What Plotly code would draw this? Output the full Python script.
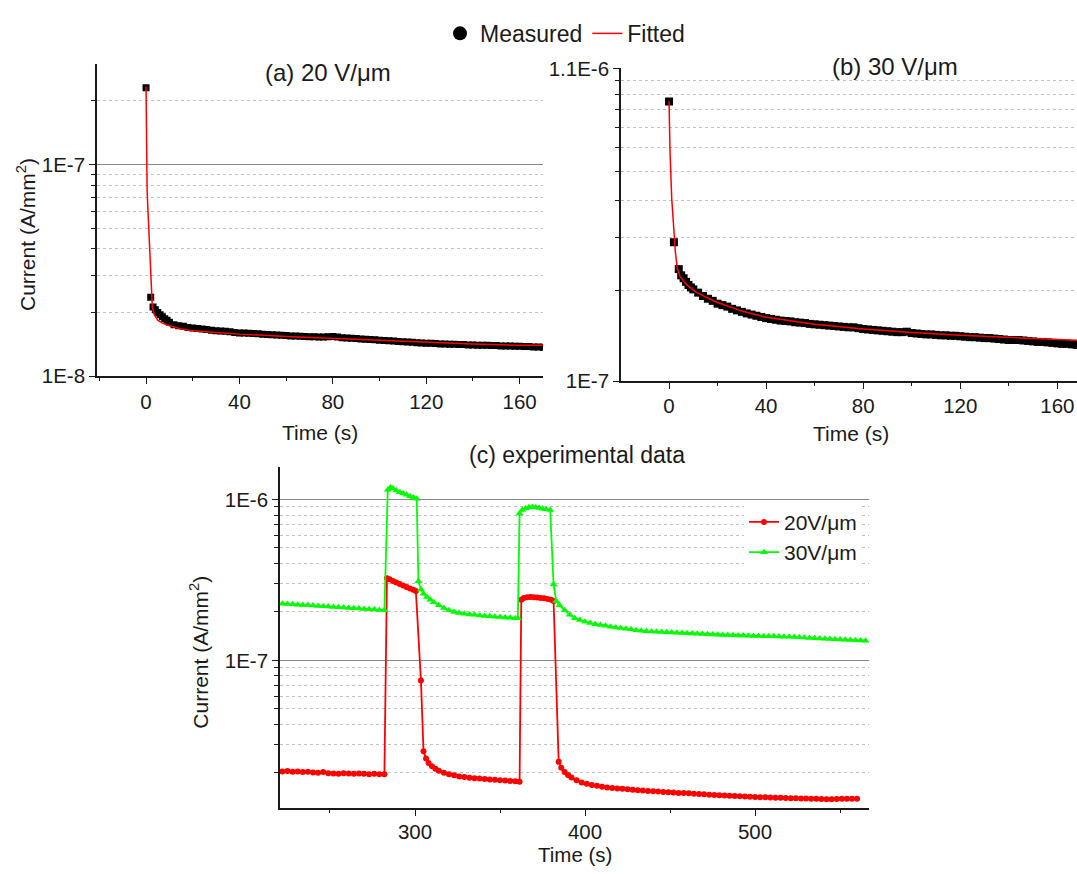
import math
import plotly.graph_objects as go

# ---------------- data ----------------
# (a) 20 V/um : measured current (A/mm^2) vs time (s)
A_T = [0, 2, 3, 4, 5, 6, 7, 8, 9, 10] + list(range(12, 171, 2))
A_I_E8 = [23.1, 2.36, 2.12, 2.06, 2.00, 1.95, 1.91, 1.87, 1.84, 1.80,
          1.75, 1.73, 1.72, 1.70, 1.69, 1.68, 1.67, 1.66, 1.65, 1.64,
          1.635, 1.63, 1.62, 1.61, 1.60, 1.60, 1.595, 1.59, 1.585, 1.58,
          1.575, 1.57, 1.565, 1.56, 1.555, 1.55, 1.55, 1.545, 1.54, 1.535,
          1.535, 1.53, 1.53, 1.535, 1.54, 1.53, 1.52, 1.515, 1.51, 1.505,
          1.50, 1.495, 1.49, 1.485, 1.48, 1.475, 1.47, 1.465, 1.46, 1.455,
          1.45, 1.445, 1.44, 1.435, 1.43, 1.43, 1.425, 1.42, 1.42, 1.415,
          1.415, 1.41, 1.41, 1.405, 1.405, 1.40, 1.40, 1.40, 1.395, 1.395,
          1.39, 1.39, 1.39, 1.385, 1.385, 1.38, 1.38, 1.375, 1.375, 1.37]
A_FIT_T = [0, 0.1, 0.45, 0.9, 1.4, 2.0, 2.7, 3.5, 5, 7, 10, 15, 20, 30, 40,
           60, 80, 100, 120, 140, 160, 170]
A_FIT_E8 = [23.4, 14.5, 7.6, 5.8, 4.5, 3.28, 2.12, 1.95, 1.84, 1.78, 1.73,
            1.67, 1.64, 1.61, 1.58, 1.54, 1.51, 1.47, 1.44, 1.42, 1.40, 1.40]

# (b) 30 V/um
B_T = [0, 2, 4, 5, 6, 7, 8, 9, 10] + list(range(12, 171, 2))
B_I_E7 = [8.53, 2.90, 2.36, 2.25, 2.20, 2.14, 2.09, 2.05, 2.02,
          1.97, 1.92, 1.88, 1.85, 1.81, 1.79, 1.77, 1.74, 1.72, 1.70,
          1.68, 1.665, 1.65, 1.635, 1.62, 1.61, 1.60, 1.59, 1.585, 1.58,
          1.57, 1.565, 1.56, 1.55, 1.545, 1.54, 1.535, 1.53, 1.525, 1.52,
          1.515, 1.51, 1.51, 1.50, 1.49, 1.485, 1.48, 1.475, 1.47, 1.465,
          1.46, 1.455, 1.455, 1.46, 1.445, 1.44, 1.435, 1.43, 1.43, 1.425,
          1.42, 1.42, 1.415, 1.415, 1.41, 1.405, 1.40, 1.40, 1.395, 1.39,
          1.39, 1.385, 1.38, 1.375, 1.37, 1.37, 1.37, 1.365, 1.36, 1.355,
          1.35, 1.35, 1.345, 1.34, 1.335, 1.33, 1.33, 1.325, 1.32, 1.32]
B_FIT_T = [0, 0.4, 1.1, 1.8, 2.6, 3.4, 4.5, 7.3, 11.4, 19.7, 30, 40, 60, 80,
           100, 120, 140, 160, 170]
B_FIT_E7 = [8.55, 5.82, 4.06, 3.20, 2.69, 2.37, 2.23, 2.09, 1.97, 1.83, 1.71,
            1.63, 1.545, 1.49, 1.45, 1.42, 1.395, 1.375, 1.365]

# (c) experimental data, 20 V/um
C20_T = (list(range(222, 283, 3))
         + [283.5, 285, 287, 289, 291, 293, 295, 297, 299, 300.5]
         + [303.5, 305, 306.5, 308, 310, 312, 314] + list(range(317, 360, 3)) + [361.5]
         + [362.5, 364, 366, 368, 370, 372, 374, 376, 378, 380, 381.5]
         + [384.5, 386, 388, 390, 392] + list(range(395, 561, 3)))
C20_I = ([v * 1e-8 for v in [2.04, 2.05, 2.03, 2.04, 2.02, 2.03, 2.01, 2.00, 2.02, 1.99,
                             1.98, 1.97, 1.99, 1.98, 1.97, 1.98, 1.97, 1.96, 1.97, 1.96, 1.96]]
         + [v * 1e-7 for v in [3.24, 3.20, 3.12, 3.05, 2.98, 2.92, 2.86, 2.80, 2.75, 2.70]]
         + [v * 1e-8 for v in [7.5, 2.72, 2.45, 2.30, 2.20, 2.12, 2.06,
                               2.00, 1.96, 1.93, 1.90, 1.88, 1.86, 1.85, 1.84, 1.83,
                               1.82, 1.81, 1.80, 1.79, 1.78, 1.77, 1.76]]
         + [v * 1e-7 for v in [2.38, 2.44, 2.47, 2.48, 2.47, 2.46, 2.44, 2.43, 2.41, 2.38, 2.34]]
         + [v * 1e-8 for v in [2.34, 2.15, 2.02, 1.94, 1.87,
                               1.80, 1.74, 1.71, 1.68, 1.66, 1.64, 1.62, 1.61, 1.60, 1.59,
                               1.58, 1.57, 1.56, 1.55, 1.54, 1.535, 1.53, 1.52, 1.515, 1.51,
                               1.50, 1.495, 1.49, 1.48, 1.475, 1.47, 1.46, 1.455, 1.45, 1.445,
                               1.44, 1.435, 1.43, 1.425, 1.42, 1.415, 1.41, 1.41, 1.405, 1.40,
                               1.40, 1.395, 1.39, 1.39, 1.385, 1.385, 1.38, 1.38, 1.375, 1.37,
                               1.37, 1.375, 1.38, 1.38, 1.38, 1.38]])

# (c) experimental data, 30 V/um
C30_T = (list(range(222, 283, 3))
         + [284, 285.5, 287, 289, 291, 293, 295, 297, 299, 301]
         + [302, 303.5, 305, 307, 309, 311] + list(range(314, 360, 3)) + [360.5]
         + [361.5, 363, 365, 367, 369, 371, 373, 375, 377, 379.5]
         + [381.5, 383, 385] + list(range(388, 568, 3)))
C30_I = ([v * 1e-7 for v in [2.25, 2.24, 2.23, 2.22, 2.21, 2.21, 2.19, 2.18, 2.17, 2.16,
                             2.15, 2.14, 2.13, 2.12, 2.11, 2.10, 2.09, 2.08, 2.07, 2.06, 2.05]]
         + [v * 1e-6 for v in [1.15, 1.19, 1.17, 1.14, 1.11, 1.09, 1.07, 1.05, 1.03, 1.01]]
         + [v * 1e-7 for v in [3.10, 2.76, 2.60, 2.48, 2.38, 2.30,
                               2.20, 2.12, 2.05, 2.00, 1.97, 1.95, 1.93, 1.92, 1.90, 1.89,
                               1.88, 1.87, 1.86, 1.85, 1.84, 1.83, 1.83]]
         + [v * 1e-7 for v in [8.2, 8.6, 8.8, 8.95, 9.0, 8.95, 8.85, 8.75, 8.7, 8.6]]
         + [v * 1e-7 for v in [2.96, 2.34, 2.20,
                               2.05, 1.92, 1.83, 1.78, 1.74, 1.71, 1.68, 1.66, 1.64, 1.62,
                               1.60, 1.59, 1.57, 1.56, 1.54, 1.53, 1.52, 1.51, 1.505, 1.50,
                               1.495, 1.49, 1.485, 1.48, 1.475, 1.47, 1.465, 1.46, 1.455, 1.45,
                               1.445, 1.44, 1.44, 1.435, 1.43, 1.43, 1.425, 1.42, 1.42, 1.415,
                               1.41, 1.41, 1.405, 1.40, 1.40, 1.395, 1.39, 1.385, 1.38, 1.375,
                               1.37, 1.365, 1.36, 1.355, 1.35, 1.345, 1.34, 1.335, 1.33, 1.325]])

assert len(A_T) == len(A_I_E8), (len(A_T), len(A_I_E8))
assert len(A_FIT_T) == len(A_FIT_E8)
assert len(B_T) == len(B_I_E7), (len(B_T), len(B_I_E7))
assert len(B_FIT_T) == len(B_FIT_E7)
assert len(C20_T) == len(C20_I), (len(C20_T), len(C20_I))
assert len(C30_T) == len(C30_I), (len(C30_T), len(C30_I))

A_I = [v * 1e-8 for v in A_I_E8]
A_FIT = [v * 1e-8 for v in A_FIT_E8]
B_I = [v * 1e-7 for v in B_I_E7]
B_FIT = [v * 1e-7 for v in B_FIT_E7]

# tick labels
A_YTICKS = [1e-8, 1e-7]
A_YTEXT = ["1E-8", "1E-7"]
B_YTICKS = [1e-7, 1.1e-6]
B_YTEXT = ["1E-7", "1.1E-6"]
C_YTICKS = [1e-7, 1e-6]
C_YTEXT = ["1E-7", "1E-6"]

# ---------------- layout helpers ----------------
W, H = 1077, 874
def fx(p):
    return p / W
def fy(p):
    return 1 - p / H

FONT = "Arial, 'Liberation Sans', sans-serif"
BLACK = "#1a1a1a"
DOT = "#c2c2c2"
MAJ = "#8a8a8a"

def minors(lo_exp, hi_exp, extra=()):
    vals = []
    for e in range(lo_exp, hi_exp):
        for m in range(2, 10):
            vals.append(m * 10.0 ** e)
    return vals + list(extra)

fig = go.Figure()

# (a)
fig.add_trace(go.Scatter(x=A_T, y=A_I, mode="markers", xaxis="x", yaxis="y",
                         marker=dict(symbol="square", size=7, color="black"),
                         showlegend=False, name="Measured"))
fig.add_trace(go.Scatter(x=A_FIT_T, y=A_FIT, mode="lines", xaxis="x", yaxis="y",
                         line=dict(color="#ff0000", width=1.5),
                         showlegend=False, name="Fitted"))
# (b)
fig.add_trace(go.Scatter(x=B_T, y=B_I, mode="markers", xaxis="x2", yaxis="y2",
                         marker=dict(symbol="square", size=8, color="black"),
                         showlegend=False, name="Measured"))
fig.add_trace(go.Scatter(x=B_FIT_T, y=B_FIT, mode="lines", xaxis="x2", yaxis="y2",
                         line=dict(color="#ff0000", width=1.5),
                         showlegend=False, name="Fitted"))
# shared legend entries for (a) and (b)
fig.add_trace(go.Scatter(x=[None], y=[None], mode="markers", xaxis="x", yaxis="y",
                         marker=dict(symbol="circle", size=14, color="black"),
                         name="Measured", legend="legend"))
fig.add_trace(go.Scatter(x=[None], y=[None], mode="lines", xaxis="x", yaxis="y",
                         line=dict(color="#ff0000", width=1.5),
                         name="Fitted", legend="legend"))
# (c)
fig.add_trace(go.Scatter(x=C20_T, y=C20_I, mode="lines+markers", xaxis="x3", yaxis="y3",
                         line=dict(color="#ff0000", width=1.8),
                         marker=dict(symbol="circle", size=6, color="#ff0000"),
                         name="20V/μm", legend="legend2"))
fig.add_trace(go.Scatter(x=C30_T, y=C30_I, mode="lines+markers", xaxis="x3", yaxis="y3",
                         line=dict(color="#00ff00", width=1.8),
                         marker=dict(symbol="triangle-up", size=7, color="#00ff00"),
                         name="30V/μm", legend="legend2"))

axis_common = dict(showline=True, linecolor=BLACK, linewidth=1.6, ticks="outside",
                   tickcolor=BLACK, tickwidth=1.3, ticklen=6, mirror=False,
                   tickfont=dict(family=FONT, size=20.5, color=BLACK), zeroline=False)

def xaxis(domain, rng, anchor, dtick, tick0, mdtick, standoff=0):
    d = dict(axis_common)
    d.update(domain=domain, range=rng, anchor=anchor, showgrid=False,
             tickmode="linear", dtick=dtick, tick0=tick0, ticklabelstandoff=standoff,
             minor=dict(dtick=mdtick, tick0=tick0, ticks="outside", ticklen=3,
                        tickcolor=BLACK, showgrid=False))
    return d

def yaxis(domain, rng, anchor, tvals, ttext, mvals, showmajorgrid):
    d = dict(axis_common)
    d.update(domain=domain, range=[math.log10(rng[0]), math.log10(rng[1])],
             type="log", anchor=anchor, tickmode="array", tickvals=tvals, ticktext=ttext,
             showgrid=showmajorgrid, gridcolor=MAJ, gridwidth=1.3,
             minor=dict(tickmode="array", tickvals=mvals, ticks="outside", ticklen=4,
                        tickcolor=BLACK, showgrid=True, gridcolor=DOT, gridwidth=1,
                        griddash="dot"))
    return d

fig.update_layout(
    width=W, height=H,
    margin=dict(l=0, r=0, t=0, b=0),
    paper_bgcolor="white", plot_bgcolor="white",
    font=dict(family=FONT, color=BLACK),
    xaxis=xaxis([fx(97), fx(543)], [-21, 170], "y", 40, 0, 20),
    yaxis=yaxis([fy(374), fy(53)], [1e-8, 3e-7], "x", A_YTICKS, A_YTEXT,
                minors(-8, -7, [2e-7]), True),
    xaxis2=xaxis([fx(621), 1.0], [-19.8, 168.1], "y2", 40, 0, 20),
    yaxis2=yaxis([fy(379), fy(58)], [1e-7, 1.1e-6], "x2", B_YTICKS, B_YTEXT,
                 minors(-7, -6, [1e-6]), False),
    xaxis3=xaxis([fx(280), fx(869)], [220.6, 567], "y3", 100, 300, 50, -2),
    yaxis3=yaxis([fy(818), fy(467)], [1.2e-8, 1.6e-6], "x3", C_YTICKS, C_YTEXT,
                 minors(-8, -6), True),
    legend=dict(orientation="h", x=fx(440), y=fy(22), xanchor="left", yanchor="middle",
                bgcolor="rgba(0,0,0,0)", font=dict(family=FONT, size=23, color=BLACK),
                itemsizing="trace"),
    legend2=dict(orientation="v", x=fx(744), y=fy(503), xanchor="left", yanchor="top",
                 bgcolor="white", font=dict(family=FONT, size=21, color=BLACK),
                 tracegroupgap=0),
)

def label(text, px, py, size, angle=0):
    fig.add_annotation(text=text, x=fx(px), y=fy(py), xref="paper", yref="paper",
                       xanchor="center", yanchor="middle", showarrow=False,
                       textangle=angle, font=dict(family=FONT, size=size, color=BLACK))

label("(a) 20 V/μm", 328, 62, 24)
label("(b) 30 V/μm", 895, 56, 24)
label("(c) experimental data", 577, 455, 23)
label("Time (s)", 320, 432, 21)
label("Time (s)", 851, 433, 21)
label("Time (s)", 575, 865, 20.5)
label("Current (A/mm<sup>2</sup>)", 26, 229, 21, -90)
label("Current (A/mm<sup>2</sup>)", 199, 658, 21, -90)

fig.write_html("out.html", config={"displayModeBar": False},
               post_script="document.body.style.margin='0px';document.body.style.overflow='hidden';")
